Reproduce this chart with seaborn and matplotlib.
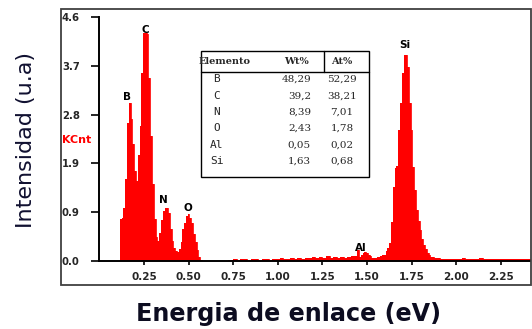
import numpy as np
import pandas as pd
import matplotlib
matplotlib.use("Agg")
import matplotlib.pyplot as plt
from matplotlib.patches import Rectangle
from matplotlib.lines import Line2D
import seaborn as sns

# ---------------- data ----------------
energy = [0.00, 0.11, 0.12, 0.13, 0.14, 0.15, 0.16, 0.17, 0.18, 0.19, 0.20,
          0.21, 0.22, 0.23, 0.24, 0.25, 0.26, 0.27, 0.28, 0.29, 0.30,
          0.31, 0.32, 0.33, 0.34, 0.35, 0.36, 0.37, 0.38, 0.39, 0.40,
          0.41, 0.42, 0.43, 0.44, 0.45, 0.46, 0.47, 0.48, 0.49, 0.50,
          0.51, 0.52, 0.53, 0.54, 0.55, 0.56, 0.57, 0.58, 0.70, 0.74,
          0.76, 0.78, 0.80, 0.82, 0.84, 0.86, 0.88, 0.90, 0.92, 0.94,
          0.96, 0.98, 1.00, 1.02, 1.04, 1.06, 1.08, 1.10, 1.12, 1.14,
          1.16, 1.18, 1.20, 1.22, 1.24, 1.26, 1.28, 1.30, 1.32, 1.34,
          1.36, 1.38, 1.40, 1.42, 1.44, 1.45, 1.46, 1.47, 1.48, 1.49,
          1.50, 1.51, 1.52, 1.53, 1.54, 1.55, 1.56, 1.57, 1.58, 1.59,
          1.60, 1.61, 1.62, 1.63, 1.64, 1.65, 1.66, 1.67, 1.68, 1.69,
          1.70, 1.71, 1.72, 1.73, 1.74, 1.75, 1.76, 1.77, 1.78, 1.79,
          1.80, 1.81, 1.82, 1.83, 1.84, 1.85, 1.86, 1.87, 1.88, 1.90,
          1.92, 1.94, 1.96, 1.98, 2.00, 2.02, 2.04, 2.06, 2.08, 2.10,
          2.12, 2.14, 2.16, 2.18, 2.20, 2.22, 2.24, 2.26, 2.28, 2.30,
          2.32, 2.34, 2.36, 2.38, 2.40, 2.42]
counts = [0.00, 0.00, 0.80, 0.82, 1.00, 1.55, 2.60, 2.98, 2.68, 2.20, 1.70,
          1.50, 2.00, 2.55, 3.55, 4.30, 4.30, 4.28, 3.45, 2.35, 1.45,
          0.80, 0.45, 0.38, 0.52, 0.78, 0.95, 1.00, 1.00, 0.90, 0.60,
          0.38, 0.25, 0.18, 0.17, 0.22, 0.35, 0.60, 0.72, 0.85, 0.88,
          0.82, 0.72, 0.50, 0.35, 0.20, 0.08, 0.02, 0.00, 0.00, 0.01,
          0.03, 0.02, 0.04, 0.03, 0.02, 0.04, 0.03, 0.02, 0.03, 0.04,
          0.02, 0.03, 0.04, 0.05, 0.03, 0.04, 0.06, 0.04, 0.05, 0.03,
          0.06, 0.05, 0.07, 0.05, 0.08, 0.06, 0.09, 0.06, 0.08, 0.05,
          0.07, 0.06, 0.08, 0.10, 0.09, 0.20, 0.08, 0.12, 0.15, 0.17,
          0.15, 0.12, 0.09, 0.06, 0.05, 0.06, 0.08, 0.07, 0.10, 0.12,
          0.12, 0.18, 0.25, 0.34, 0.74, 1.40, 1.75, 1.80, 2.47, 2.98,
          3.55, 3.89, 3.89, 3.66, 2.98, 2.47, 1.77, 1.34, 0.96, 0.75,
          0.58, 0.42, 0.30, 0.22, 0.16, 0.12, 0.08, 0.07, 0.06, 0.05,
          0.04, 0.03, 0.04, 0.03, 0.04, 0.03, 0.05, 0.03, 0.04, 0.03,
          0.04, 0.05, 0.03, 0.04, 0.03, 0.04, 0.03, 0.04, 0.03, 0.04,
          0.03, 0.04, 0.03, 0.04, 0.03, 0.03]

peak_labels = ["B", "C", "N", "O", "Al", "Si"]
peak_x = [0.155, 0.256, 0.356, 0.497, 1.465, 1.713]
peak_y = [3.09, 4.36, 1.15, 1.00, 0.25, 4.08]

yticks_vals = [0.0, 0.92, 1.84, 2.76, 3.68, 4.6]
yticks_text = ["0.0", "0.9", "1.9", "2.8", "3.7", "4.6"]
xticks_vals = [0.25, 0.50, 0.75, 1.00, 1.25, 1.50, 1.75, 2.00, 2.25]
xticks_text = ["0.25", "0.50", "0.75", "1.00", "1.25", "1.50", "1.75", "2.00", "2.25"]

table_elem = ["B", "C", "N", "O", "Al", "Si"]
table_wt = ["48,29", "39,2", "8,39", "2,43", "0,05", "1,63"]
table_at = ["52,29", "38,21", "7,01", "1,78", "0,02", "0,68"]
table_header = ["Elemento", "Wt%", "At%"]

# ---------------- figure ----------------
sns.set_style("white")
plt.rcParams['font.family'] = ['DejaVu Sans']

W, H = 532, 329
fig = plt.figure(figsize=(W / 100, H / 100), dpi=100)

def fx(px):
    return px / W

def fy(py):
    return 1 - py / H

ax_left, ax_right, ax_top, ax_bottom = 99.4, 530.0, 17.0, 261.0
ax = fig.add_axes([fx(ax_left), fy(ax_bottom), fx(ax_right - ax_left), (ax_bottom - ax_top) / H])

df = pd.DataFrame({"energy": energy, "counts": counts})
sns.lineplot(data=df, x="energy", y="counts", ax=ax, color="#ff0000",
             lw=0.6, drawstyle="steps-mid", estimator=None)
ax.fill_between(df["energy"], df["counts"], step="mid", color="#ff0000", lw=0)

ax.set_xlim(0, 2.414)
ax.set_ylim(0, 4.6)
ax.set_xlabel("")
ax.set_ylabel("")

for s in ["top", "right"]:
    ax.spines[s].set_visible(False)
for s in ["left", "bottom"]:
    ax.spines[s].set_color("black")
    ax.spines[s].set_linewidth(1.4)

ax.set_yticks(yticks_vals)
ax.set_yticklabels(yticks_text)
ax.set_xticks(xticks_vals)
ax.set_xticklabels(xticks_text)
ax.tick_params(axis="y", left=True, direction="out", length=6, width=1.2,
               color="black", pad=9, labelsize=7.3)
ax.tick_params(axis="x", bottom=True, direction="out", length=3, width=1.2,
               color="black", pad=5, labelsize=7.5)
for lab in ax.get_xticklabels() + ax.get_yticklabels():
    lab.set_fontweight("bold")
for lab in ax.get_yticklabels():
    lab.set_horizontalalignment("left")
    lab.set_x(-(ax_left - 62) / (ax_right - ax_left))
    lab.set_transform(ax.get_yaxis_transform())
ax.grid(False)

for t, x, y in zip(peak_labels, peak_x, peak_y):
    ax.text(x, y, t, ha="center", va="center", fontsize=7.5, fontweight="bold",
            color="black")

# KCnt
fig.text(fx(62), fy(140), "KCnt", color="#ff0000", fontsize=8, fontweight="bold",
         ha="left", va="center")

# axis titles
fig.text(fx(26), fy(140), "Intensidad (u.a)", rotation=90, fontsize=16,
         color="#101030", ha="center", va="center")
fig.text(fx(288), fy(314), "Energia de enlace (eV)", fontsize=17.2,
         fontweight="bold", color="#0c0c20", ha="center", va="center")

# outer frame
fig.patches.append(Rectangle((fx(61), fy(285)), fx(531 - 61), (285 - 9) / H,
                             fill=False, lw=1.3, edgecolor="#404040",
                             transform=fig.transFigure, figure=fig))

# table
tl, tr, tt, tb = 201, 369, 51, 177
fig.patches.append(Rectangle((fx(tl), fy(tb)), fx(tr - tl), (tb - tt) / H,
                             fill=True, facecolor="white", lw=1.0, edgecolor="black",
                             transform=fig.transFigure, figure=fig, zorder=3))
fig.lines.append(Line2D([fx(tl), fx(tr)], [fy(72), fy(72)], color="black", lw=1.0,
                        transform=fig.transFigure, figure=fig, zorder=4))
fig.lines.append(Line2D([fx(324), fx(324)], [fy(tt), fy(72)], color="black", lw=1.0,
                        transform=fig.transFigure, figure=fig, zorder=4))

hdr_y = 62
fig.text(fx(225), fy(hdr_y), table_header[0], family="DejaVu Serif", fontweight="bold",
         fontsize=7, ha="center", va="center", zorder=5)
fig.text(fx(296), fy(hdr_y), table_header[1], family="DejaVu Serif", fontweight="bold",
         fontsize=7, ha="center", va="center", zorder=5)
fig.text(fx(342), fy(hdr_y), table_header[2], family="DejaVu Serif", fontweight="bold",
         fontsize=7, ha="center", va="center", zorder=5)

row_y = [79, 96, 112, 128, 145, 161]
for e, w, a, ry in zip(table_elem, table_wt, table_at, row_y):
    fig.text(fx(217), fy(ry), e, family="DejaVu Sans Mono", fontsize=8,
             ha="center", va="center", zorder=5)
    fig.text(fx(311), fy(ry), w, family="DejaVu Serif", fontsize=7.5,
             ha="right", va="center", zorder=5)
    fig.text(fx(342), fy(ry), a, family="DejaVu Serif", fontsize=7.5,
             ha="center", va="center", zorder=5)

fig.savefig("out.png", dpi=100, facecolor="white")
